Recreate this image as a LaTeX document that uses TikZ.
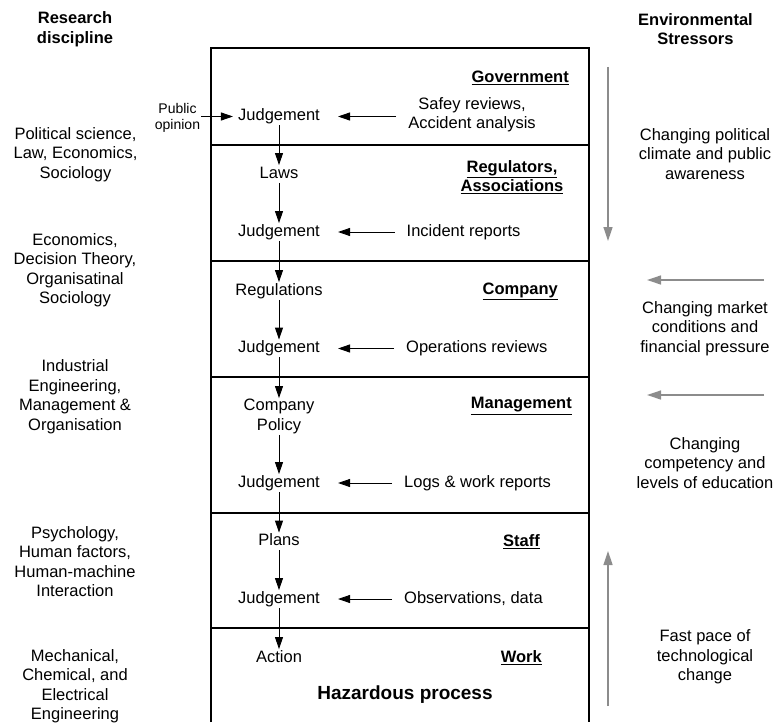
\documentclass[tikz,border=0pt]{standalone}
\usepackage{fontspec}
\setmainfont{Liberation Sans}
\usetikzlibrary{arrows.meta}

\begin{document}
\begin{tikzpicture}[
  x=1pt, y=-1pt,
  txt/.style={font=\fontsize{16.5}{19.5}\selectfont, align=center, inner sep=1pt},
  stage/.style={txt, text height=12pt, text depth=3.5pt}, % one-line boxes share a baseline
  small/.style={font=\fontsize{14}{16}\selectfont, align=center, inner sep=1pt},
  head/.style={txt, font=\fontsize{16.5}{19.5}\selectfont\bfseries},
  layer/.style={head, anchor=east},
  flow/.style={-{Triangle[length=12pt,width=8pt]}, line width=0.9pt},
  feed/.style={flow, shorten <=11pt, shorten >=17pt},
  stress/.style={-{Triangle[length=14pt,width=9pt]}, line width=1.3pt, black!45}
]
\def\colx{279} % x of the decision chain

\useasboundingbox (0,0) rectangle (775,722);

% --- Frame ---
\draw[line width=1.1pt] (211,722) -- (211,48) -- (589,48) -- (589,722);
\foreach \y in {145,261,377,513,628}
  \draw[line width=1.1pt] (211,\y) -- (589,\y);

% --- Layers ---
\node[layer] (gov) at (570,78) {\underline{Government}};
\node[head] (reg) at (512,177) {\underline{Regulators,}\\\underline{Associations}};
\node[layer] (comp) at (559,291) {\underline{Company}};
\node[layer] (mgmt) at (573,406) {\underline{Management}};
\node[layer] (staff) at (541,542) {\underline{Staff}};
\node[layer] (work) at (543,658) {\underline{Work}};
\node[txt, font=\fontsize{19}{22}\selectfont\bfseries] (hazard) at (405,695) {Hazardous process};

% --- Decision chain ---
\node[stage] (j1) at (\colx,116.5) {Judgement};
\node[stage] (laws) at (\colx,174) {Laws};
\node[stage] (j2) at (\colx,232) {Judgement};
\node[stage] (regs) at (\colx,291) {Regulations};
\node[stage] (j3) at (\colx,348.5) {Judgement};
\node[txt] (policy) at (\colx,416.5) {Company\\Policy};
\node[stage] (j4) at (\colx,483) {Judgement};
\node[stage] (plans) at (\colx,541.5) {Plans};
\node[stage] (j5) at (\colx,599) {Judgement};
\node[stage] (action) at (\colx,658) {Action};

\foreach \a/\b in {j1/laws, laws/j2, j2/regs, regs/j3, j3/policy,
                   policy/j4, j4/plans, plans/j5, j5/action}
  \draw[flow] (\a) -- (\b);

% --- Feedback ---
\node[txt] (in1) at (472,114.5) {Safey reviews,\\Accident analysis};
\node[stage, anchor=west] (in2) at (405.5,232) {Incident reports};
\node[stage, anchor=west] (in3) at (405,348.5) {Operations reviews};
\node[stage, anchor=west] (in4) at (403,483) {Logs \& work reports};
\node[stage, anchor=west] (in5) at (403,599) {Observations, data};

\foreach \s/\d in {in1/j1, in2/j2, in3/j3, in4/j4, in5/j5}
  \draw[feed] (\s.west |- \d) -- (\d.east);

\node[small] (pub) at (177.5,118) {Public\\opinion};
\draw[flow, shorten >=4pt] (pub.east |- j1) -- (j1.west);

% --- Research discipline ---
\node[head] (rd) at (75,29) {Research\\discipline};
\node[txt] (d1) at (75.5,154.5) {Political science,\\Law, Economics,\\Sociology};
\node[txt] (d2) at (75,270) {Economics,\\Decision Theory,\\Organisatinal\\Sociology};
\node[txt] (d3) at (75,396.5) {Industrial\\Engineering,\\Management \&\\Organisation};
\node[txt] (d4) at (75,561.5) {Psychology,\\Human factors,\\Human-machine\\Interaction};
\node[txt] (d5) at (75,686) {Mechanical,\\Chemical, and\\Electrical\\Engineering};

% --- Environmental stressors ---
\node[head] (es) at (695.5,29) {Environmental\\Stressors};
\node[txt] (s1) at (705,154) {Changing political\\climate and public\\awareness};
\node[txt] (s2) at (705,328.5) {Changing market\\conditions and\\financial pressure};
\node[txt] (s3) at (705,463) {Changing\\competency and\\levels of education};
\node[txt] (s4) at (705,657) {Fast pace of\\technological\\change};

\coordinate (pol-a) at (608,67);   \coordinate (pol-b) at (608,241);
\coordinate (mkt-a) at (764,280);  \coordinate (mkt-b) at (647,280);
\coordinate (edu-a) at (764,395);  \coordinate (edu-b) at (647,395);
\coordinate (tech-a) at (608,706); \coordinate (tech-b) at (608,551);

\foreach \p in {pol, mkt, edu, tech}
  \draw[stress] (\p-a) -- (\p-b);

\end{tikzpicture}
\end{document}
